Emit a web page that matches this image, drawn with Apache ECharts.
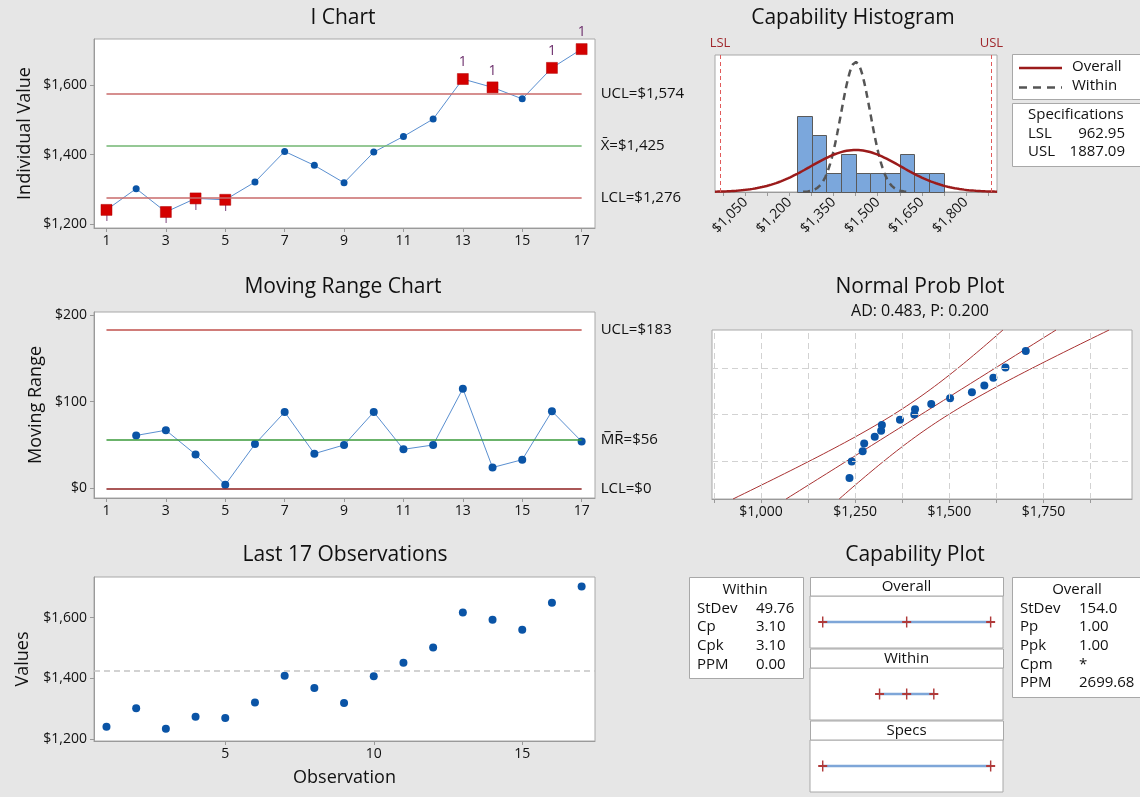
<!DOCTYPE html>
<html>
<head>
<meta charset="utf-8">
<script src="https://cdn.jsdelivr.net/npm/echarts@6/dist/echarts.min.js"></script>
<style>
  html, body { margin: 0; padding: 0; background: #e6e6e6; }
  #chart { width: 1140px; height: 797px; }
</style>
</head>
<body>
<div id="chart"></div>
<script>
// ---- Data -------------------------------------------------------------
const observation = [1, 2, 3, 4, 5, 6, 7, 8, 9, 10, 11, 12, 13, 14, 15, 16, 17];
const values = [1241, 1302, 1235, 1274, 1270, 1321, 1409, 1369, 1319, 1407, 1452, 1502, 1617, 1593, 1560, 1649, 1703];
// moving ranges start at observation 2
const movingRange = [61, 67, 39, 4, 51, 88, 40, 50, 88, 45, 50, 115, 24, 33, 89, 54];

// I chart / MR chart limits
const iLimits = [1574, 1425, 1276];          // UCL, mean, LCL
const mrLimits = [183, 56, 0];               // UCL, MR-bar, LCL

// capability statistics
const processMean = 1425;
const withinSd = 49.76;
const overallSd = 154.0;
const specLimits = [962.95, 1887.09];        // LSL, USL
const withinStats = [['StDev', '49.76'], ['Cp', '3.10'], ['Cpk', '3.10'], ['PPM', '0.00']];
const overallStats = [['StDev', '154.0'], ['Pp', '1.00'], ['Ppk', '1.00'], ['Cpm', '*'], ['PPM', '2699.68']];
const adText = 'AD: 0.483, P: 0.200';

// histogram bins
const histBinStart = [1225, 1275, 1325, 1375, 1425, 1475, 1525, 1575, 1625, 1675];
const histBinWidth = 50;
const histCounts = [4, 3, 1, 2, 1, 1, 1, 2, 1, 1];

// tick positions
const obsTicks = [1, 3, 5, 7, 9, 11, 13, 15, 17];
const last17Ticks = [5, 10, 15];
const iTicks = [1200, 1400, 1600];
const mrTicks = [0, 100, 200];
const histLabelTicks = [1050, 1200, 1350, 1500, 1650, 1800];
const histMinorTicks = [975, 1050, 1125, 1200, 1275, 1350, 1425, 1500, 1575, 1650, 1725, 1800, 1875];
const probLabelTicks = [1000, 1250, 1500, 1750];
const probGridX = [875, 1000, 1125, 1250, 1375, 1500, 1625, 1750, 1875];
const probGridPct = [10, 50, 90];
const probPctRange = [1, 99];

// ---- Helpers ----------------------------------------------------------
const FONT = '"Open Sans", "Noto Sans", sans-serif';
const TXT = '#111111';
const money = v => '$' + Number(v).toLocaleString('en-US');

function normInv(p) {
  const a = [-3.969683028665376e+01, 2.209460984245205e+02, -2.759285104469687e+02, 1.383577518672690e+02, -3.066479806614716e+01, 2.506628277459239e+00];
  const b = [-5.447609879822406e+01, 1.615858368580409e+02, -1.556989798598866e+02, 6.680131188771972e+01, -1.328068155288572e+01];
  const c = [-7.784894002430293e-03, -3.223964580411365e-01, -2.400758277161838e+00, -2.549732539343734e+00, 4.374664141464968e+00, 2.938163982698783e+00];
  const d = [7.784695709041462e-03, 3.224671290700398e-01, 2.445134137142996e+00, 3.754408661907416e+00];
  const pl = 0.02425;
  let q, r;
  if (p < pl) {
    q = Math.sqrt(-2 * Math.log(p));
    return (((((c[0]*q+c[1])*q+c[2])*q+c[3])*q+c[4])*q+c[5]) / ((((d[0]*q+d[1])*q+d[2])*q+d[3])*q+1);
  }
  if (p <= 1 - pl) {
    q = p - 0.5; r = q * q;
    return (((((a[0]*r+a[1])*r+a[2])*r+a[3])*r+a[4])*r+a[5])*q / (((((b[0]*r+b[1])*r+b[2])*r+b[3])*r+b[4])*r+1);
  }
  q = Math.sqrt(-2 * Math.log(1 - p));
  return -(((((c[0]*q+c[1])*q+c[2])*q+c[3])*q+c[4])*q+c[5]) / ((((d[0]*q+d[1])*q+d[2])*q+d[3])*q+1);
}
const normPdf = (x, m, s) => Math.exp(-0.5 * ((x - m) / s) ** 2) / (s * Math.sqrt(2 * Math.PI));

function valueAxis(gridIndex, min, max, ticks, formatter, extra) {
  return Object.assign({
    type: 'value', gridIndex, min, max,
    axisLine: { show: true, onZero: false, lineStyle: { color: '#9a9a9a' } },
    axisTick: { show: true, customValues: ticks, length: 4, lineStyle: { color: '#9a9a9a' } },
    axisLabel: { show: true, customValues: ticks, formatter, color: TXT, fontSize: 14, fontFamily: FONT, margin: 6 },
    splitLine: { show: false }
  }, extra || {});
}
function hiddenAxis(gridIndex, min, max) {
  return { type: 'value', gridIndex, min, max, show: false, axisLine: { onZero: false }, splitLine: { show: false } };
}
function gridBox(left, top, width, height) {
  return { left, top, width, height, show: true, backgroundColor: '#ffffff', borderColor: '#a8a8a8', borderWidth: 1, containLabel: false, outerBoundsMode: 'none' };
}
function text(x, y, str, size, align, color) {
  return { type: 'text', x, y, silent: true,
    style: { text: str, fill: color || TXT, font: size + 'px ' + FONT, align: align || 'center', verticalAlign: 'middle' } };
}
function rect(x, y, w, h) {
  return { type: 'rect', silent: true, shape: { x: x + 0.5, y: y + 0.5, width: w, height: h },
    style: { fill: '#ffffff', stroke: '#a8a8a8', lineWidth: 1 } };
}
const nameStyle = { color: TXT, fontSize: 18, fontFamily: FONT };
const yLabel = ticks => ({ show: true, customValues: ticks, formatter: money, color: TXT, fontSize: 14, fontFamily: FONT, margin: 7 });

// ---- Derived marks ----------------------------------------------------
const [iUcl, iMean, iLcl] = iLimits;
const [mrUcl, mrBar, mrLcl] = mrLimits;
const [lsl, usl] = specLimits;
const obsPairs = observation.map((x, i) => [x, values[i]]);
const lowFlags = obsPairs.filter(p => p[1] < iLcl);
const flagged = obsPairs.filter(p => p[1] > iUcl || p[1] < iLcl);
const mrPairs = movingRange.map((v, i) => [observation[i + 1], v]);

const histMax = 7.18;
const countScale = values.length * histBinWidth;
const overallCurve = [];
for (let x = 946; x <= 1906; x += 4) overallCurve.push([x, normPdf(x, processMean, overallSd) * countScale]);
const withinCurve = [];
for (let x = processMean - 3.6 * withinSd; x <= processMean + 3.6 * withinSd + 0.01; x += 2) withinCurve.push([x, normPdf(x, processMean, withinSd) * countScale]);

const n = values.length;
const sorted = values.slice().sort((a, b) => a - b);
const probPoints = sorted.map((v, i) => [v, normInv((i + 1 - 0.3) / (n + 0.4))]);
const zLo = normInv(probPctRange[0] / 100), zHi = normInv(probPctRange[1] / 100);
const fitLine = [], bandLo = [], bandHi = [];
for (let k = 0; k <= 60; k++) {
  const z = zLo + (zHi - zLo) * k / 60;
  const centre = processMean + z * overallSd;
  const half = 1.96 * overallSd * Math.sqrt(1 / n + z * z / (2 * n));
  fitLine.push([centre, z]);
  bandLo.push([centre - half, z]);
  bandHi.push([centre + half, z]);
}

const overallSpan = [processMean - 3 * overallSd, processMean, processMean + 3 * overallSd];
const withinSpan = [processMean - 3 * withinSd, processMean, processMean + 3 * withinSd];
const plusSymbol = 'path://M4.2,0H5.8V10H4.2Z M0,4.2H10V5.8H0Z';

const BLUE = '#0a54a6';
const BLUE_LINE = '#5a8fd0';
const X_MIN = 0.58, X_MAX = 17.45;

const labelStyle = { color: TXT, fontSize: 15, fontFamily: FONT };
function limitLine(y, color, label, width) {
  return [
    { coord: [1, y], lineStyle: { color, width: width || 1.5, type: 'solid' },
      label: Object.assign({ show: true, position: 'end', distance: 19, formatter: label }, labelStyle) },
    { coord: [17, y] }
  ];
}

// ---- Chart ------------------------------------------------------------
const chart = echarts.init(document.getElementById('chart'), null, { renderer: 'canvas' });

const option = {
  animation: false,
  backgroundColor: '#e6e6e6',
  textStyle: { fontFamily: FONT },
  grid: [
    gridBox(94, 39, 501, 189),     // 0 I chart
    gridBox(94, 312, 501, 186),    // 1 moving range
    gridBox(94, 577, 501, 164),    // 2 last observations
    gridBox(715, 55, 282, 137),    // 3 histogram
    gridBox(712, 330, 420, 169),   // 4 normal probability
    gridBox(810, 596, 193, 52),    // 5 capability overall
    gridBox(810, 668, 193, 52),    // 6 capability within
    gridBox(810, 740, 193, 52)     // 7 capability specs
  ],
  xAxis: [
    valueAxis(0, X_MIN, X_MAX, obsTicks, v => v),
    valueAxis(1, X_MIN, X_MAX, obsTicks, v => v),
    valueAxis(2, X_MIN, X_MAX, last17Ticks, v => v, {
      name: 'Observation', nameLocation: 'middle', nameGap: 28, nameTextStyle: nameStyle
    }),
    valueAxis(3, 946, 1906, histLabelTicks, money, {
      axisTick: { show: true, customValues: histMinorTicks, length: 4, lineStyle: { color: '#9a9a9a' } },
      axisLabel: { show: true, customValues: histLabelTicks, formatter: money, rotate: 45, color: TXT, fontSize: 14, fontFamily: FONT, margin: 8 }
    }),
    valueAxis(4, 870, 1985, probLabelTicks, money, {
      axisTick: { show: true, customValues: probGridX, length: 4, lineStyle: { color: '#9a9a9a' } }
    }),
    hiddenAxis(5, 893, 1955),
    hiddenAxis(6, 893, 1955),
    hiddenAxis(7, 893, 1955)
  ],
  yAxis: [
    valueAxis(0, 1189, 1732, iTicks, money, {
      name: 'Individual Value', nameLocation: 'middle', nameGap: 60, nameTextStyle: nameStyle, axisLabel: yLabel(iTicks)
    }),
    valueAxis(1, -11.2, 203.5, mrTicks, money, {
      name: 'Moving Range', nameLocation: 'middle', nameGap: 49, nameTextStyle: nameStyle, axisLabel: yLabel(mrTicks)
    }),
    valueAxis(2, 1194.4, 1733.9, iTicks, money, {
      name: 'Values', nameLocation: 'middle', nameGap: 62, nameTextStyle: nameStyle, axisLabel: yLabel(iTicks)
    }),
    hiddenAxis(3, 0, histMax),
    hiddenAxis(4, zLo, zHi),
    hiddenAxis(5, 0, 1),
    hiddenAxis(6, 0, 1),
    hiddenAxis(7, 0, 1)
  ],
  series: [
    // I chart: individual values with control limits
    {
      type: 'line', xAxisIndex: 0, yAxisIndex: 0, z: 2, clip: false,
      data: obsPairs,
      symbol: 'circle', symbolSize: 7,
      itemStyle: { color: BLUE, opacity: 1 },
      lineStyle: { color: BLUE_LINE, width: 1 },
      markLine: {
        silent: true, symbol: 'none', animation: false,
        data: [
          limitLine(iUcl, '#c86a6a', 'UCL=' + money(iUcl)),
          limitLine(iMean, '#72b672', 'X\u0304=' + money(iMean)),
          limitLine(iLcl, '#c86a6a', 'LCL=' + money(iLcl))
        ]
      }
    },
    {
      type: 'scatter', xAxisIndex: 0, yAxisIndex: 0, z: 3,
      data: lowFlags, symbol: 'circle', symbolSize: 1,
      itemStyle: { color: 'rgba(0,0,0,0)' },
      label: { show: true, position: 'bottom', distance: 0, formatter: '1', color: '#6b2d6b', fontSize: 14, fontFamily: FONT }
    },
    {
      type: 'scatter', xAxisIndex: 0, yAxisIndex: 0, z: 4,
      data: flagged.map(p => ({
        value: p,
        label: { show: p[1] > iUcl, position: 'top', distance: 4, formatter: '1', color: '#6b2d6b', fontSize: 14, fontFamily: FONT }
      })),
      symbol: 'rect', symbolSize: 11,
      itemStyle: { color: '#d40000', opacity: 1, borderColor: '#b00000', borderWidth: 0.5 }
    },
    // Moving range chart
    {
      type: 'line', xAxisIndex: 1, yAxisIndex: 1, z: 2, clip: false,
      data: mrPairs,
      symbol: 'circle', symbolSize: 8,
      itemStyle: { color: BLUE, opacity: 1 },
      lineStyle: { color: BLUE_LINE, width: 1 },
      markLine: {
        silent: true, symbol: 'none', animation: false,
        data: [
          limitLine(mrUcl, '#c0504d', 'UCL=' + money(mrUcl)),
          limitLine(mrBar, '#3a9a3a', 'M\u0305R\u0305=' + money(mrBar)),
          limitLine(mrLcl, '#8e1f1f', 'LCL=' + money(mrLcl))
        ]
      }
    },
    // Last observations
    {
      type: 'scatter', xAxisIndex: 2, yAxisIndex: 2, z: 3,
      data: obsPairs, symbol: 'circle', symbolSize: 8,
      itemStyle: { color: BLUE, opacity: 1 },
      markLine: {
        silent: true, symbol: 'none', animation: false, label: { show: false },
        lineStyle: { color: '#c4c4c4', type: [6, 4], width: 1.5 },
        data: [{ yAxis: processMean }]
      }
    },
    // Capability histogram
    {
      type: 'custom', xAxisIndex: 3, yAxisIndex: 3, z: 2,
      data: histBinStart.map((s, i) => [s, s + histBinWidth, histCounts[i]]),
      encode: { x: [0, 1], y: 2 },
      renderItem: (params, api) => {
        const p0 = api.coord([api.value(0), 0]);
        const p1 = api.coord([api.value(1), api.value(2)]);
        return {
          type: 'rect',
          shape: { x: Math.round(p0[0]) + 0.5, y: Math.round(p1[1]) + 0.5, width: Math.round(p1[0]) - Math.round(p0[0]), height: Math.round(p0[1]) - Math.round(p1[1]) },
          style: { fill: '#7ba7dc', stroke: '#5a5a5a', lineWidth: 1 }
        };
      },
      markLine: {
        silent: true, symbol: 'none', animation: false,
        lineStyle: { color: '#e05a5a', type: [4, 3], width: 1 },
        label: { show: true, position: 'end', distance: 5, color: '#a0282d', fontSize: 13, fontFamily: FONT },
        data: [
          [{ coord: [lsl, 0], label: { formatter: 'LSL' } }, { coord: [lsl, histMax] }],
          [{ coord: [usl, 0], label: { formatter: 'USL' } }, { coord: [usl, histMax] }]
        ]
      }
    },
    {
      type: 'line', xAxisIndex: 3, yAxisIndex: 3, z: 3,
      data: withinCurve, symbol: 'none',
      lineStyle: { color: '#555555', width: 2.5, type: [7, 5] }
    },
    {
      type: 'line', xAxisIndex: 3, yAxisIndex: 3, z: 4,
      data: overallCurve, symbol: 'none',
      lineStyle: { color: '#9b1b1b', width: 2.5 }
    },
    // Normal probability plot
    {
      type: 'line', xAxisIndex: 4, yAxisIndex: 4, z: 2,
      data: fitLine, symbol: 'none',
      lineStyle: { color: '#a83232', width: 1 },
      markLine: {
        silent: true, symbol: 'none', animation: false, label: { show: false },
        lineStyle: { color: '#d2d2d2', type: [6, 4], width: 1 },
        data: probGridX.map(v => ({ xAxis: v })).concat(probGridPct.map(p => ({ yAxis: normInv(p / 100) })))
      }
    },
    { type: 'line', xAxisIndex: 4, yAxisIndex: 4, z: 2, data: bandLo, symbol: 'none', lineStyle: { color: '#a83232', width: 1 } },
    { type: 'line', xAxisIndex: 4, yAxisIndex: 4, z: 2, data: bandHi, symbol: 'none', lineStyle: { color: '#a83232', width: 1 } },
    {
      type: 'scatter', xAxisIndex: 4, yAxisIndex: 4, z: 3,
      data: probPoints, symbol: 'circle', symbolSize: 8,
      itemStyle: { color: BLUE, opacity: 1 }
    },
    // Capability plot
    {
      type: 'line', xAxisIndex: 5, yAxisIndex: 5, data: overallSpan.map(v => [v, 0.5]),
      symbol: plusSymbol, symbolSize: [9, 11], itemStyle: { color: '#b03a3a', opacity: 1 },
      lineStyle: { color: '#7ea6d8', width: 2.5 }
    },
    {
      type: 'line', xAxisIndex: 6, yAxisIndex: 6, data: withinSpan.map(v => [v, 0.5]),
      symbol: plusSymbol, symbolSize: [9, 11], itemStyle: { color: '#b03a3a', opacity: 1 },
      lineStyle: { color: '#7ea6d8', width: 2.5 }
    },
    {
      type: 'line', xAxisIndex: 7, yAxisIndex: 7, data: specLimits.map(v => [v, 0.5]),
      symbol: plusSymbol, symbolSize: [9, 11], itemStyle: { color: '#b03a3a', opacity: 1 },
      lineStyle: { color: '#7ea6d8', width: 2.5 }
    }
  ],
  graphic: { elements: [] }
};

// titles
const g = option.graphic.elements;
g.push(text(343, 18, 'I Chart', 21));
g.push(text(343, 287, 'Moving Range Chart', 21));
g.push(text(345, 555, 'Last 17 Observations', 21));
g.push(text(853, 18, 'Capability Histogram', 21));
g.push(text(920, 287, 'Normal Prob Plot', 21));
g.push(text(920, 311, adText, 16));
g.push(text(915, 555, 'Capability Plot', 21));

// histogram legend
g.push(rect(1012, 54, 140, 45));
g.push({ type: 'line', silent: true, shape: { x1: 1019, y1: 68, x2: 1062, y2: 68 }, style: { stroke: '#9b1b1b', lineWidth: 2.5 } });
g.push({ type: 'line', silent: true, shape: { x1: 1019, y1: 87.5, x2: 1062, y2: 87.5 }, style: { stroke: '#555555', lineWidth: 2.5, lineDash: [8, 6] } });
g.push(text(1072, 67, 'Overall', 15, 'left'));
g.push(text(1072, 86, 'Within', 15, 'left'));

// specification box
g.push(rect(1012, 103, 140, 63));
g.push(text(1028, 115, 'Specifications', 15, 'left'));
g.push(text(1028, 134, 'LSL', 15, 'left'));
g.push(text(1125, 134, lsl.toFixed(2), 15, 'right'));
g.push(text(1028, 152, 'USL', 15, 'left'));
g.push(text(1125, 152, usl.toFixed(2), 15, 'right'));

// within statistics
g.push(rect(689, 577, 114, 101));
g.push(text(745, 589.5, 'Within', 15));
withinStats.forEach((row, i) => {
  const y = [609, 627, 645.5, 664.5][i];
  g.push(text(697, y, row[0], 15, 'left'));
  g.push(text(756, y, row[1], 15, 'left'));
});

// overall statistics
g.push(rect(1012, 577, 140, 120));
g.push(text(1077, 589.5, 'Overall', 15));
overallStats.forEach((row, i) => {
  const y = [609, 627, 645.5, 664.5, 683][i];
  g.push(text(1020, y, row[0], 15, 'left'));
  g.push(text(1079, y, row[1], 15, 'left'));
});

// capability plot strip headers
[['Overall', 577, 18.5], ['Within', 648.5, 19], ['Specs', 720.5, 19]].forEach(h => {
  g.push(rect(810, h[1], 193, h[2]));
  g.push(text(906.5, h[1] + h[2] / 2 + 0.5, h[0], 15));
});

chart.setOption(option);
</script>
</body>
</html>
